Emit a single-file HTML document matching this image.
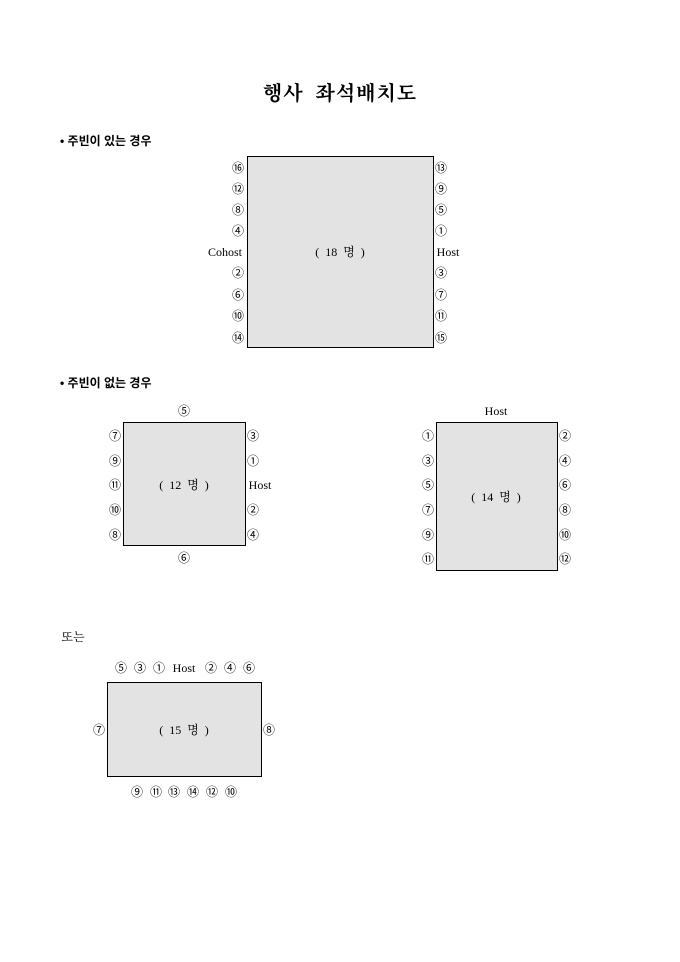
<!DOCTYPE html>
<html><head><meta charset="utf-8"><style>
body{margin:0;width:680px;height:962px;background:#fff;position:relative;overflow:hidden;font-family:"Liberation Serif","Noto Serif CJK SC",serif;color:#000}
.b{position:absolute;background:#e3e3e3;border:1px solid #000;box-sizing:border-box}
.t{position:absolute;transform:translate(-50%,-50%);font-size:12px;white-space:pre;line-height:1;font-family:"Noto Sans CJK KR","Liberation Serif",serif}
.h{position:absolute;font-family:"Liberation Sans","Noto Sans CJK KR",sans-serif;font-weight:bold;font-size:12px;line-height:1}
.c{font-size:12px;font-family:"Liberation Serif","Noto Serif CJK SC",serif}
</style></head><body>
<div class="t" style="left:340px;top:92px;font-size:20px;font-weight:bold;font-family:'Noto Serif CJK SC',serif;letter-spacing:1px">행사  좌석배치도</div>
<div class="h" style="left:60px;top:135px">• 주빈이 있는 경우</div>
<div class="b" style="left:247px;top:156px;width:187px;height:192px"></div>
<div class="t c" style="left:340px;top:252px">(  18  명  )</div>
<div class="t" style="left:238px;top:168px">⑯</div><div class="t" style="left:238px;top:189px">⑫</div><div class="t" style="left:238px;top:210px">⑧</div><div class="t" style="left:238px;top:231px">④</div>
<div class="t c" style="left:225px;top:252px">Cohost</div>
<div class="t" style="left:238px;top:273px">②</div><div class="t" style="left:238px;top:295px">⑥</div><div class="t" style="left:238px;top:316px">⑩</div><div class="t" style="left:238px;top:338px">⑭</div>
<div class="t" style="left:441px;top:168px">⑬</div><div class="t" style="left:441px;top:189px">⑨</div><div class="t" style="left:441px;top:210px">⑤</div><div class="t" style="left:441px;top:231px">①</div>
<div class="t c" style="left:448px;top:252px">Host</div>
<div class="t" style="left:441px;top:273px">③</div><div class="t" style="left:441px;top:295px">⑦</div><div class="t" style="left:441px;top:316px">⑪</div><div class="t" style="left:441px;top:338px">⑮</div>

<div class="h" style="left:60px;top:377px">• 주빈이 없는 경우</div>
<div class="b" style="left:123px;top:422px;width:123px;height:124px"></div>
<div class="t c" style="left:184px;top:485px">(  12  명  )</div>
<div class="t" style="left:184px;top:411px">⑤</div><div class="t" style="left:184px;top:558px">⑥</div>
<div class="t" style="left:115px;top:436px">⑦</div><div class="t" style="left:115px;top:461px">⑨</div><div class="t" style="left:115px;top:485px">⑪</div><div class="t" style="left:115px;top:510px">⑩</div><div class="t" style="left:115px;top:535px">⑧</div>
<div class="t" style="left:253px;top:436px">③</div><div class="t" style="left:253px;top:461px">①</div><div class="t c" style="left:260px;top:485px">Host</div><div class="t" style="left:253px;top:510px">②</div><div class="t" style="left:253px;top:535px">④</div>

<div class="b" style="left:436px;top:422px;width:122px;height:149px"></div>
<div class="t c" style="left:496px;top:497px">(  14  명  )</div>
<div class="t c" style="left:496px;top:411px">Host</div>
<div class="t" style="left:428px;top:436px">①</div><div class="t" style="left:428px;top:461px">③</div><div class="t" style="left:428px;top:485px">⑤</div><div class="t" style="left:428px;top:510px">⑦</div><div class="t" style="left:428px;top:535px">⑨</div><div class="t" style="left:428px;top:559px">⑪</div>
<div class="t" style="left:565px;top:436px">②</div><div class="t" style="left:565px;top:461px">④</div><div class="t" style="left:565px;top:485px">⑥</div><div class="t" style="left:565px;top:510px">⑧</div><div class="t" style="left:565px;top:535px">⑩</div><div class="t" style="left:565px;top:559px">⑫</div>

<div class="t c" style="left:73px;top:637px">또는</div>
<div class="b" style="left:107px;top:682px;width:155px;height:95px"></div>
<div class="t c" style="left:184px;top:730px">(  15  명  )</div>
<div class="t" style="left:121px;top:668px">⑤</div><div class="t" style="left:140px;top:668px">③</div><div class="t" style="left:159px;top:668px">①</div><div class="t c" style="left:184px;top:668px">Host</div><div class="t" style="left:211px;top:668px">②</div><div class="t" style="left:230px;top:668px">④</div><div class="t" style="left:249px;top:668px">⑥</div>
<div class="t" style="left:99px;top:730px">⑦</div><div class="t" style="left:269px;top:730px">⑧</div>
<div class="t" style="left:137px;top:792px">⑨</div><div class="t" style="left:156px;top:792px">⑪</div><div class="t" style="left:174px;top:792px">⑬</div><div class="t" style="left:193px;top:792px">⑭</div><div class="t" style="left:212px;top:792px">⑫</div><div class="t" style="left:231px;top:792px">⑩</div>
</body></html>
